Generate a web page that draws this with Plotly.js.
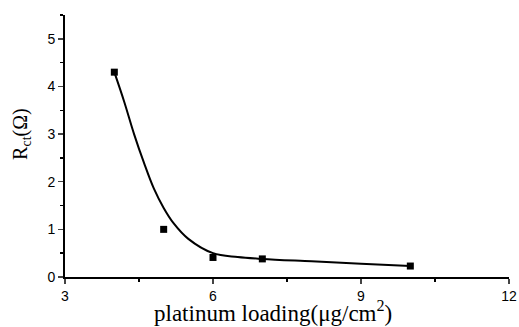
<!DOCTYPE html>
<html><head><meta charset="utf-8">
<script src="https://cdn.plot.ly/plotly-3.0.1.min.js"></script>
<style>html,body{margin:0;padding:0;background:#fff}#c{width:519px;height:327px}</style>
</head><body><div id="c"></div>
<script>
const loadingX = [4, 5, 6, 7, 10];
const rctY = [4.3, 1.0, 0.41, 0.38, 0.23];
const fitX = [4.0, 4.2, 4.4, 4.6, 4.8, 5.0, 5.2, 5.5, 6.0, 6.5, 7.0, 8.0, 9.0, 10.0];
const fitY = [4.3, 3.68, 3.0, 2.4, 1.86, 1.45, 1.13, 0.8, 0.5, 0.42, 0.38, 0.33, 0.28, 0.23];
const xTicks = [3, 6, 9, 12];
const yTicks = [0, 1, 2, 3, 4, 5];
const xTitle = 'platinum loading(μg/cm<sup>2</sup>)';
const yTitle = 'R<sub>ct</sub>(Ω)';

const traces = [
  {x: fitX, y: fitY, mode: 'lines', line: {color: '#000', width: 2, shape: 'spline', smoothing: 1}, hoverinfo: 'skip'},
  {x: loadingX, y: rctY, mode: 'markers', marker: {symbol: 'square', size: 7, color: '#000'}}
];
const tickFont = {family: 'Liberation Sans, Arial, sans-serif', size: 14, color: '#000'};
const serif = 'Liberation Serif, Times New Roman, serif';
const layout = {
  width: 519, height: 327, showlegend: false,
  paper_bgcolor: '#fff', plot_bgcolor: '#fff',
  margin: {l: 65, r: 10, t: 15, b: 50},
  xaxis: {range: [3, 12], tickvals: xTicks, ticks: 'outside', ticklen: 5, tickwidth: 1.5,
    showline: true, linewidth: 2, linecolor: '#000', showgrid: false, zeroline: false,
    tickfont: tickFont,
    minor: {dtick: 1.5, tick0: 3, ticks: 'outside', ticklen: 3, tickwidth: 1.5, tickcolor: '#000'}},
  yaxis: {range: [0, 5.5], tickvals: yTicks, ticks: 'outside', ticklen: 5, tickwidth: 1.5,
    showline: true, linewidth: 2, linecolor: '#000', showgrid: false, zeroline: false,
    tickfont: tickFont,
    minor: {dtick: 0.5, tick0: 0, ticks: 'outside', ticklen: 3, tickwidth: 1.5, tickcolor: '#000'}},
  annotations: [
    {text: xTitle, xref: 'paper', yref: 'paper', x: 0.468, y: -0.19, xanchor: 'center', yanchor: 'bottom',
     borderpad: 0, showarrow: false, font: {family: serif, size: 23, color: '#000'}},
    {text: yTitle, xref: 'paper', yref: 'paper', x: -0.097, y: 0.546, xanchor: 'center', yanchor: 'middle',
     textangle: -90, showarrow: false, font: {family: serif, size: 20, color: '#000'}}
  ]
};
Plotly.newPlot('c', traces, layout, {staticPlot: true, displayModeBar: false});
</script></body></html>
